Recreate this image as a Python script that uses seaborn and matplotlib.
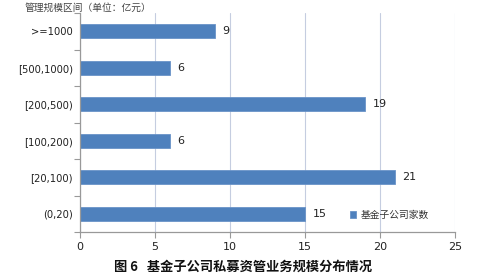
import matplotlib
matplotlib.use("Agg")
import matplotlib.pyplot as plt
import seaborn as sns
import pandas as pd
import numpy as np

categories = [">=1000", "[500,1000)", "[200,500)", "[100,200)", "[20,100)", "(0,20)"]
counts = [9, 6, 19, 6, 21, 15]
series_name = "基金子公司家数"
xticks = [0, 5, 10, 15, 20, 25]

sns.set_theme(style="white")
plt.rcParams['font.family'] = ['DejaVu Sans', 'Noto Sans CJK SC']
cjk = ['Noto Sans CJK SC', 'DejaVu Sans']

df = pd.DataFrame({"区间": categories, "家数": counts, "系列": series_name})

fig = plt.figure(figsize=(4.86, 2.79), dpi=100)
ax = fig.add_axes([80/486, 1-232/279, 375/486, 219/279])

sns.barplot(data=df, y="区间", x="家数", hue="系列", orient="h", ax=ax,
            palette=["#4F81BD"], saturation=1, width=0.38, edgecolor="#6a93c8",
            linewidth=0.6, dodge=False)

ax.set_xlim(0, 25)
ax.set_ylim(5.5, -0.5)
ax.set_xticks(xticks)
ax.set_xticklabels([str(t) for t in xticks], fontsize=8, color="#222222")
ax.set_yticks(range(len(categories)))
ax.set_yticklabels(categories, fontsize=7.2, color="#222222")
ax.tick_params(axis="y", length=0, pad=5)
ax.set_yticks(np.arange(-0.5, len(categories), 1.0), minor=True)
ax.tick_params(axis="y", which="minor", length=4, color="#999999", width=0.8, left=True)
ax.tick_params(axis="x", length=4, color="#999999", width=0.8, bottom=True, pad=3)
ax.xaxis.grid(True, color="#c5cde0", linewidth=0.8)
ax.set_axisbelow(True)
for s in ["top", "right"]:
    ax.spines[s].set_visible(False)
for s in ["left", "bottom"]:
    ax.spines[s].set_color("#999999")
    ax.spines[s].set_linewidth(0.9)
ax.set_xlabel("")
ax.set_ylabel("")

for i, v in enumerate(counts):
    ax.text(v + 0.5, i, str(v), va="center", ha="left", fontsize=8, color="#222222")

leg = ax.legend(loc="lower right", bbox_to_anchor=(0.955, 0.015), frameon=False,
                prop={"family": cjk, "size": 7.0}, handlelength=0.6, handleheight=0.6,
                handletextpad=0.5, labelcolor="#333333")

fig.text(25/486, 1-8/279, "管理规模区间（单位：亿元）", fontsize=7, color="#444444",
         ha="left", va="center", family=cjk)
fig.text(243/486, 1-267/279, "图 6   基金子公司私募资管业务规模分布情况", fontsize=9.5,
         fontweight="bold", color="#111111", ha="center", va="center", family=cjk)

fig.savefig("out.png", dpi=100, facecolor="white")
